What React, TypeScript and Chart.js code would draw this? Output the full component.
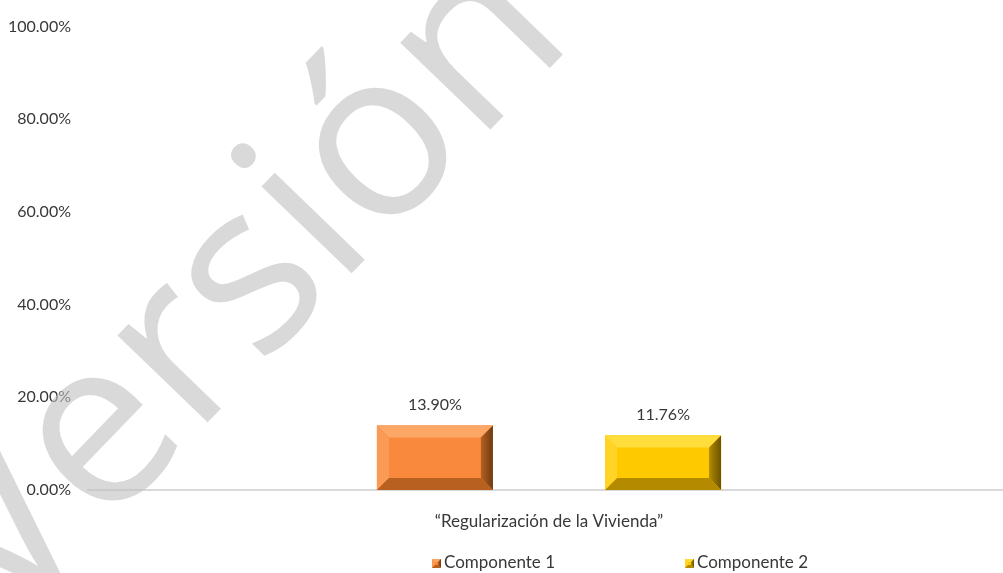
import React, { useEffect, useRef } from "react";
import { Chart, registerables } from "chart.js";

Chart.register(...registerables);

const categories = ["“Regularización de la Vivienda”"];
const seriesNames = ["Componente 1", "Componente 2"];
const componente1 = [13.9];
const componente2 = [11.76];
const yTicks = [0, 20, 40, 60, 80, 100];

const FONT = "Lato";
const TEXT = "#383838";

const palettes = [
  { face: "#F98A3D", top: "#FCA766", left: "#FA9A55", right: "#6E3A12", bottom: "#B8601F" },
  { face: "#FFC900", top: "#FFDE3C", left: "#FFD426", right: "#6B5300", bottom: "#B38A00" },
];

function drawBevel(ctx: CanvasRenderingContext2D, l: number, t: number, r: number, b: number, bev: number, p: any) {
  const face = (pts: number[][], color: any) => {
    ctx.beginPath();
    ctx.moveTo(pts[0][0], pts[0][1]);
    for (let i = 1; i < pts.length; i++) ctx.lineTo(pts[i][0], pts[i][1]);
    ctx.closePath();
    ctx.fillStyle = color;
    ctx.fill();
  };
  ctx.fillStyle = p.face;
  ctx.fillRect(l, t, r - l, b - t);
  face([[l, t], [r, t], [r - bev, t + bev], [l + bev, t + bev]], p.top);
  face([[l, t], [l + bev, t + bev], [l + bev, b - bev], [l, b]], p.left);
  const gr = ctx.createLinearGradient(r - bev, 0, r, 0);
  gr.addColorStop(0, p.bottom);
  gr.addColorStop(1, p.right);
  face([[r, t], [r, b], [r - bev, b - bev], [r - bev, t + bev]], gr);
  face([[l, b], [l + bev, b - bev], [r - bev, b - bev], [r, b]], p.bottom);
}

const bevelPlugin = {
  id: "bevel",
  afterDatasetsDraw(chart: any) {
    const ctx = chart.ctx;
    chart.data.datasets.forEach((ds: any, di: number) => {
      const meta = chart.getDatasetMeta(di);
      meta.data.forEach((el: any) => {
        const { x, y, base, width } = el.getProps(["x", "y", "base", "width"], true);
        ctx.save();
        drawBevel(ctx, x - width / 2, y, x + width / 2, base, 12, palettes[di]);
        ctx.restore();
      });
    });
  },
};

const labelPlugin = {
  id: "valueLabels",
  afterDatasetsDraw(chart: any) {
    const ctx = chart.ctx;
    ctx.save();
    ctx.font = `16px ${FONT}`;
    ctx.fillStyle = TEXT;
    ctx.textAlign = "center";
    ctx.textBaseline = "middle";
    chart.data.datasets.forEach((ds: any, di: number) => {
      const meta = chart.getDatasetMeta(di);
      meta.data.forEach((el: any, i: number) => {
        const v = ds.data[i] as number;
        ctx.fillText(v.toFixed(2) + "%", el.x, el.y - 21);
      });
    });
    ctx.restore();
  },
};

const legendPlugin = {
  id: "customLegend",
  afterDraw(chart: any) {
    const ctx = chart.ctx;
    const xs = [432, 685];
    const yc = 563;
    ctx.save();
    ctx.font = `17px ${FONT}`;
    ctx.textBaseline = "middle";
    ctx.textAlign = "left";
    chart.data.datasets.forEach((ds: any, di: number) => {
      const x = xs[di];
      drawBevel(ctx, x, yc - 4, x + 9, yc + 5, 3, palettes[di]);
      ctx.fillStyle = TEXT;
      ctx.fillText(ds.label, x + 12, yc);
    });
    ctx.restore();
  },
};

const watermarkPlugin = {
  id: "watermark",
  afterDraw(chart: any) {
    const ctx = chart.ctx;
    ctx.save();
    ctx.translate(243, 290);
    ctx.rotate((-46 * Math.PI) / 180);
    ctx.font = `234px "Open Sans"`;
    ctx.fillStyle = "rgba(192,192,192,0.6)";
    ctx.textAlign = "center";
    ctx.textBaseline = "middle";
    ctx.fillText("Versión", 0, 0);
    ctx.restore();
  },
};

export default function App() {
  const ref = useRef<HTMLCanvasElement>(null);
  useEffect(() => {
    document.body.style.margin = "0";
    const chart = new Chart(ref.current!, {
      type: "bar",
      data: {
        labels: categories,
        datasets: [
          {
            label: seriesNames[0],
            data: componente1,
            backgroundColor: palettes[0].face,
            categoryPercentage: 0.495,
            barPercentage: 0.508,
          },
          {
            label: seriesNames[1],
            data: componente2,
            backgroundColor: palettes[1].face,
            categoryPercentage: 0.495,
            barPercentage: 0.508,
          },
        ],
      },
      options: {
        animation: false,
        responsive: false,
        maintainAspectRatio: false,
        layout: { padding: { top: 20, right: 0, left: 0, bottom: 0 } },
        plugins: { legend: { display: false }, tooltip: { enabled: false } },
        scales: {
          x: {
            grid: { display: false, drawTicks: false },
            border: { display: true, color: "#d9d9d9", width: 2 },
            ticks: { font: { family: FONT, size: 17 }, color: TEXT, padding: 21 },
            afterFit: (s: any) => {
              s.height = 83;
            },
          },
          y: {
            min: 0,
            max: 100,
            afterBuildTicks: (s: any) => {
              s.ticks = yTicks.map((v) => ({ value: v }));
            },
            grid: { display: false, drawTicks: false },
            border: { display: false },
            ticks: {
              font: { family: FONT, size: 16 },
              color: TEXT,
              padding: 17,
              callback: (v: any) => Number(v).toFixed(2) + "%",
            },
            afterFit: (s: any) => {
              s.width = 88;
            },
          },
        },
      },
      plugins: [bevelPlugin, labelPlugin, legendPlugin, watermarkPlugin],
    });
    return () => chart.destroy();
  }, []);
  return (
    <div style={{ width: 1003, height: 573, overflow: "hidden" }}>
      <canvas ref={ref} width={1010} height={573} style={{ display: "block" }} />
    </div>
  );
}
